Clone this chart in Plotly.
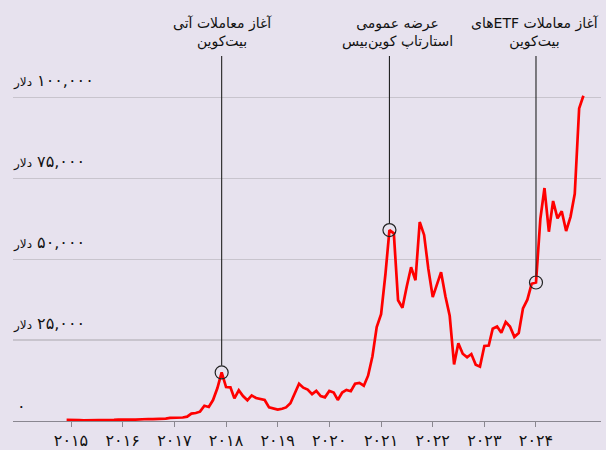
import pandas as pd
import plotly.graph_objects as go

# ---------------- data ----------------
months = pd.date_range("2014-12-01", "2024-12-01", freq="MS").strftime("%Y-%m-%d").tolist()
prices = [
    320,
    217, 254, 244, 236, 230, 263, 284, 230, 236, 314, 377, 430,
    368, 437, 416, 448, 531, 673, 624, 575, 609, 698, 742, 964,
    970, 1190, 1080, 1350, 2300, 2480, 2880, 4700, 4340, 6470, 10200, 15000,
    10500, 10400, 7000, 9500, 7700, 6400, 7900, 7100, 6700, 6500, 4200, 3800,
    3500, 3800, 4200, 5500, 8600, 11500, 10300, 9700, 8300, 9300, 7700, 7300,
    9300, 8800, 6500, 8800, 9600, 9200, 11500, 11800, 10900, 14000, 20000, 29000,
    33000, 45500, 59000, 58000, 37300, 35000, 41500, 47500, 43500, 61500, 57500, 47000,
    38300, 42500, 46000, 38500, 32500, 17500, 24000, 20800, 19700, 20700, 17400, 16800,
    23200, 23300, 28500, 29200, 27300, 30600, 29200, 26000, 27200, 34800, 37500, 42400,
    42800, 62500, 72000, 58500, 68000, 62600, 64800, 58700, 63100, 70200, 96600, 100500,
]

year_ticks = ["2015-01-01", "2016-01-01", "2017-01-01", "2018-01-01", "2019-01-01",
              "2020-01-01", "2021-01-01", "2022-01-01", "2023-01-01", "2024-01-01"]
year_labels = ["۲۰۱۵", "۲۰۱۶", "۲۰۱۷", "۲۰۱۸", "۲۰۱۹",
               "۲۰۲۰", "۲۰۲۱", "۲۰۲۲", "۲۰۲۳", "۲۰۲۴"]

grid_values = [25000, 50000, 75000, 100000]
grid_labels = ["۲۵,۰۰۰", "۵۰,۰۰۰", "۷۵,۰۰۰", "۱۰۰,۰۰۰"]
zero_label = "۰"
currency = "دلار"

event_dates = ["2017-12-01", "2021-03-01", "2024-01-01"]
event_lines = [
    ["آغاز معاملات آتی", "بیت‌کوین"],
    ["عرضه عمومی", "استارتاپ کوین‌بیس"],
    ["آغاز معاملات ETFهای", "بیت‌کوین"],
]
event_xshift = [1, 8, -1]

RLE, PDF = "\u202b", "\u202c"
LRM = "\u200e"

# ---------------- layout constants ----------------
W, H = 606, 450
ML, MR, MT, MB = 13, 5, 40, 29
Y_MAX = 117740
BG = "#E7E2EE"
FONT = "DejaVu Sans"

plot_h = H - MT - MB
px_per_year = 51.67
x0_pix = 71 - ML  # pixel distance of 2015-01-01 from plot left
start = pd.Timestamp("2015-01-01")
xr_left = start - pd.Timedelta(days=365.25 * x0_pix / px_per_year)
plot_w = W - ML - MR
xr_right = start + pd.Timedelta(days=365.25 * (plot_w - x0_pix) / px_per_year)

price_by_month = dict(zip(months, prices))
event_values = [price_by_month[d] for d in event_dates]


def y_pix(v):
    return H - MB - v / Y_MAX * plot_h


fig = go.Figure()
fig.add_trace(go.Scatter(
    x=months, y=prices, mode="lines",
    line=dict(color="#FF0000", width=2.7),
    hoverinfo="skip", showlegend=False,
))
fig.add_trace(go.Scatter(
    x=event_dates, y=event_values, mode="markers",
    marker=dict(symbol="circle-open", size=13, color="#222222", line=dict(width=1.2)),
    hoverinfo="skip", showlegend=False,
))

shapes = []
annotations = []
for d, v, lines, xs in zip(event_dates, event_values, event_lines, event_xshift):
    shapes.append(dict(
        type="line", xref="x", x0=d, x1=d,
        yref="y", ysizemode="pixel", yanchor=v,
        y0=7, y1=y_pix(v) - 56,
        line=dict(color="#222222", width=1.1),
    ))
    text = "<br>".join(RLE + ln + PDF for ln in lines)
    annotations.append(dict(
        x=d, xref="x", y=1, yref="paper", yanchor="top", yshift=27, xshift=xs,
        text=text, showarrow=False, align="center",
        font=dict(family=FONT, size=14, color="#111111"),
    ))

for v, lab in zip(grid_values, grid_labels):
    annotations.append(dict(
        x=0, xref="paper", xanchor="left", xshift=-2, y=v, yref="y", yanchor="bottom", yshift=5,
        text="<span style='font-size:12px'>" + currency + "</span>" + LRM + " " + lab,
        showarrow=False, font=dict(family=FONT, size=16, color="#111111"),
    ))
annotations.append(dict(
    x=0, xref="paper", xanchor="left", xshift=2, y=0, yref="y", yanchor="bottom", yshift=3,
    text=zero_label, showarrow=False, font=dict(family=FONT, size=16, color="#111111"),
))

fig.update_layout(
    width=W, height=H,
    margin=dict(l=ML, r=MR, t=MT, b=MB, pad=0, autoexpand=False),
    paper_bgcolor=BG, plot_bgcolor=BG,
    font=dict(family=FONT, color="#111111"),
    shapes=shapes, annotations=annotations,
    xaxis=dict(
        type="date", range=[xr_left, xr_right], automargin=False,
        tickmode="array", tickvals=year_ticks, ticktext=year_labels,
        ticks="outside", ticklen=5, tickwidth=1, tickcolor="#8A8790",
        showline=True, linecolor="#8A8790", linewidth=1.2,
        showgrid=False, zeroline=False,
        tickfont=dict(family=FONT, size=16, color="#111111"),
        fixedrange=True,
    ),
    yaxis=dict(
        range=[0, Y_MAX], automargin=False, tickmode="array", tickvals=grid_values,
        showticklabels=False, showgrid=True, gridcolor="#C8C4CD", gridwidth=1.3,
        zeroline=False, showline=False, fixedrange=True,
    ),
    showlegend=False,
)

fig.write_html(
    "out.html",
    config={"displayModeBar": False, "staticPlot": True},
    post_script="document.body.style.margin='0';document.body.style.background='" + BG + "';",
)
